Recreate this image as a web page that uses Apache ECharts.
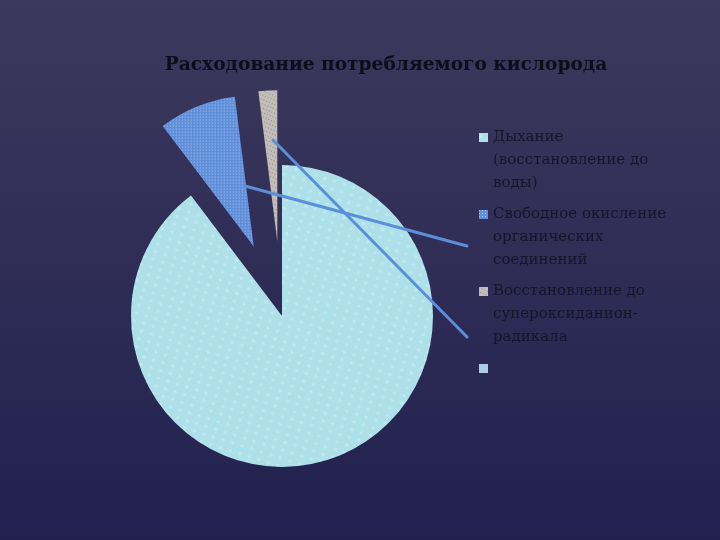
<!DOCTYPE html>
<html>
<head>
<meta charset="utf-8">
<script src="https://cdn.jsdelivr.net/npm/echarts@6/dist/echarts.min.js"></script>
<style>html,body{margin:0;padding:0;}#c{width:720px;height:540px;}</style>
</head>
<body>
<div id="c"></div>
<script>
const titleText = 'Расходование потребляемого кислорода';
const categories = ['Дыхание (восстановление до воды)', 'Свободное окисление органических соединений', 'Восстановление до супероксиданион-радикала', ' '];
const legendLabels = ['Дыхание\n(восстановление до\nводы)', 'Свободное окисление\nорганических\nсоединений', 'Восстановление до\nсупероксиданион-\nрадикала', '\u00a0\n\u00a0\n\u00a0'];
const values = [89.7, 8.3, 2.0, 0];
const exploded = [false, true, true, false];
const colors = ['#aee0ea', '#5f8fda', '#c2bdb9', '#a9cfe6'];

const decals = [
  {color: 'rgba(255,255,255,0.25)', symbol: 'circle', symbolSize: 0.7, dashArrayX: [6, 4], dashArrayY: [5, 3], rotation: 0.3},
  {color: 'rgba(235,245,255,0.55)', symbol: 'rect', symbolSize: 1, dashArrayX: [1, 2], dashArrayY: [1, 2], rotation: 0},
  {color: 'rgba(90,85,85,0.45)', symbol: 'rect', symbolSize: 1, dashArrayX: [1, 2], dashArrayY: [1, 3], rotation: 0.4},
  null
];

const chart = echarts.init(document.getElementById('c'));
const option = {
  animation: false,
  backgroundColor: {
    type: 'linear', x: 0, y: 0, x2: 0, y2: 1,
    colorStops: [{offset: 0, color: '#3d395d'}, {offset: 1, color: '#21214f'}]
  },
  title: {
    text: titleText,
    left: 381, top: 51, textAlign: 'center',
    textStyle: {fontFamily: 'DejaVu Serif', fontWeight: 'bold', fontSize: 18.6, color: '#0d0d18'}
  },
  legend: {
    orient: 'vertical',
    left: 474, top: 75,
    itemWidth: 9, itemHeight: 9,
    itemGap: -38,
    icon: 'rect',
    selectedMode: false,
    data: categories,
    formatter: function (name) { return '\n\n' + legendLabels[categories.indexOf(name)]; },
    textStyle: {fontFamily: 'DejaVu Serif', fontSize: 15, color: '#15152a', lineHeight: 23}
  },
  graphic: [
    {type: 'line', z: 100, shape: {x1: 273, y1: 140, x2: 467, y2: 337}, style: {stroke: '#5b8fd8', lineWidth: 3, lineCap: 'round'}},
    {type: 'line', z: 100, shape: {x1: 245, y1: 186, x2: 467, y2: 246}, style: {stroke: '#5b8fd8', lineWidth: 3, lineCap: 'round'}}
  ],
  series: [{
    type: 'pie',
    center: [282, 316],
    radius: [0, 151],
    startAngle: 90,
    clockwise: true,
    selectedMode: 'multiple',
    selectedOffset: 75,
    silent: true,
    avoidLabelOverlap: false,
    label: {show: false},
    labelLine: {show: false},
    emphasis: {disabled: true},
    data: categories.map((n, i) => ({
      name: n, value: values[i], selected: exploded[i],
      itemStyle: decals[i] ? {color: colors[i], decal: decals[i]} : {color: colors[i]}
    }))
  }]
};
chart.setOption(option);
</script>
</body>
</html>
